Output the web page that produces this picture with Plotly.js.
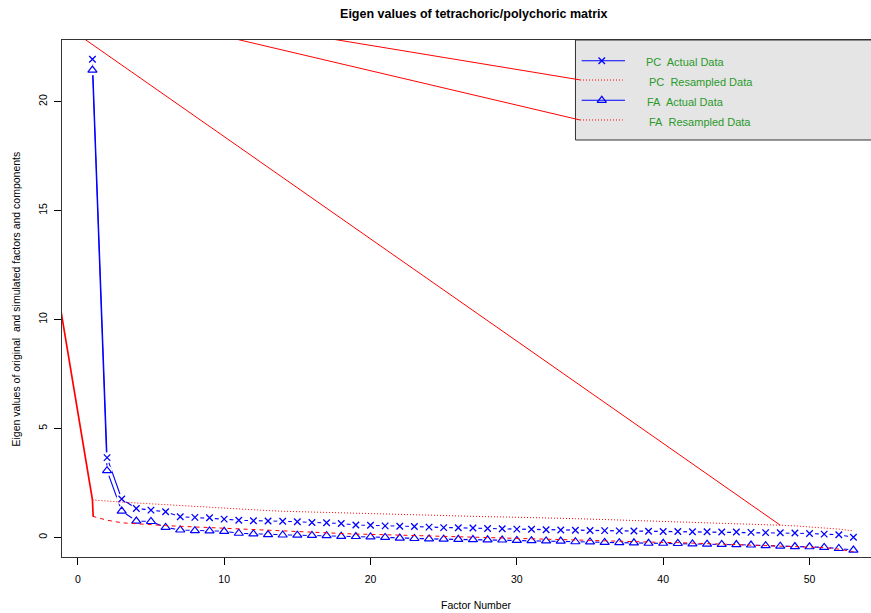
<!DOCTYPE html>
<html>
<head>
<meta charset="utf-8">
<script src="https://cdn.plot.ly/plotly-3.0.1.min.js"></script>
<style>html,body{margin:0;padding:0;background:#fff}#chart{width:871px;height:613px}</style>
</head>
<body>
<div id="chart"></div>
<script>
// ---------- data ----------
const factorNumber = [1,2,3,4,5,6,7,8,9,10,11,12,13,14,15,16,17,18,19,20,21,22,23,24,25,26,27,28,29,30,31,32,33,34,35,36,37,38,39,40,41,42,43,44,45,46,47,48,49,50,51,52,53];
const pcActual = [21.95,3.66,1.76,1.33,1.25,1.18,0.95,0.92,0.90,0.84,
  0.79,0.76,0.75,0.74,0.72,0.68,0.67,0.64,0.57,0.56,
  0.53,0.51,0.50,0.47,0.45,0.44,0.43,0.41,0.40,0.38,
  0.37,0.35,0.34,0.33,0.32,0.31,0.30,0.29,0.28,0.27,
  0.27,0.26,0.26,0.25,0.25,0.23,0.22,0.21,0.20,0.18,
  0.15,0.12,0.01];
const pcResampled = [1.72,1.66,1.62,1.58,1.54,1.50,1.45,1.40,1.36,1.32,
  1.29,1.26,1.23,1.20,1.18,1.16,1.14,1.12,1.10,1.08,
  1.06,1.04,1.03,1.02,1.00,0.98,0.96,0.95,0.94,0.93,
  0.92,0.90,0.88,0.86,0.84,0.82,0.80,0.78,0.77,0.75,
  0.73,0.71,0.69,0.66,0.63,0.61,0.58,0.56,0.53,0.49,
  0.45,0.38,0.30];
const faActual = [21.45,3.06,1.21,0.75,0.73,0.46,0.34,0.31,0.30,0.28,
  0.19,0.16,0.13,0.11,0.10,0.09,0.08,0.05,0.04,0.02,
  0.00,-0.03,-0.05,-0.07,-0.08,-0.09,-0.10,-0.11,-0.12,-0.14,
  -0.15,-0.16,-0.17,-0.20,-0.21,-0.23,-0.24,-0.25,-0.27,-0.27,
  -0.28,-0.30,-0.31,-0.32,-0.33,-0.35,-0.38,-0.40,-0.42,-0.43,
  -0.46,-0.51,-0.58];
const faResampled = [0.97,0.79,0.67,0.62,0.58,0.54,0.51,0.48,0.44,0.41,
  0.37,0.34,0.30,0.27,0.24,0.22,0.19,0.17,0.15,0.14,
  0.12,0.10,0.08,0.06,0.04,0.02,0.00,-0.01,-0.03,-0.04,
  -0.06,-0.08,-0.10,-0.12,-0.14,-0.16,-0.18,-0.20,-0.21,-0.23,
  -0.24,-0.26,-0.28,-0.30,-0.32,-0.34,-0.36,-0.38,-0.40,-0.43,
  -0.47,-0.54,-0.66];
// stray red line segments visible in the original picture (data coordinates)
const strayLeftX = [-1.3, 1, 1.05];
const strayLeftY = [11.0, 1.72, 0.97];
const strayDiagX = [-1.94, 48];
const strayDiagY = [24, 0.56];
const strayLegendPcX = [7.2, 34.31];
const strayLegendPcY = [24, 21.0];
const strayLegendFaX = [3.67, 34.31];
const strayLegendFaY = [24, 19.16];
// legend
const legendLabels = ["PC\u00a0 Actual Data", "PC\u00a0 Resampled Data", "FA\u00a0 Actual Data", "FA\u00a0 Resampled Data"];
const xTicks = [0, 10, 20, 30, 40, 50];
const yTicks = [0, 5, 10, 15, 20];

// ---------- styles ----------
const BLUE = '#0000ff', RED = '#ff0000', GREEN = '#2a9a2a';
const FONT = 'Liberation Sans, Arial, Helvetica, sans-serif';
const xMarker = {symbol: 'x-thin-open', size: 6.5, color: BLUE, line: {color: BLUE, width: 1.3}};
const triMarker = {symbol: 'triangle-up-open', size: 8, color: BLUE, line: {color: BLUE, width: 1.2}};

const traces = [];
// blue connecting lines
traces.push({x: factorNumber, y: pcActual, mode: 'lines', line: {color: BLUE, width: 1.1}, hoverinfo: 'skip'});
traces.push({x: factorNumber, y: faActual, mode: 'lines', line: {color: BLUE, width: 1.1}, hoverinfo: 'skip'});
// white gaps around points (type "b" look)
traces.push({x: factorNumber, y: pcActual, mode: 'markers', marker: {symbol: 'circle', size: 11, color: '#ffffff'}, hoverinfo: 'skip'});
traces.push({x: factorNumber, y: faActual, mode: 'markers', marker: {symbol: 'circle', size: 10.5, color: '#ffffff'}, hoverinfo: 'skip'});
// symbols
traces.push({x: factorNumber, y: pcActual, mode: 'markers', marker: xMarker});
traces.push({x: factorNumber, y: faActual, mode: 'markers', marker: triMarker});
// resampled
traces.push({x: factorNumber, y: pcResampled, mode: 'lines', line: {color: RED, width: 1, dash: '1px,2px'}});
traces.push({x: factorNumber, y: faResampled, mode: 'lines', line: {color: RED, width: 1, dash: '4px,4px'}});
// stray lines
traces.push({x: strayLeftX, y: strayLeftY, mode: 'lines', line: {color: RED, width: 1.7}});
traces.push({x: strayDiagX, y: strayDiagY, mode: 'lines', line: {color: RED, width: 1}});
traces.push({x: strayLegendPcX, y: strayLegendPcY, mode: 'lines', line: {color: RED, width: 1}});
traces.push({x: strayLegendFaX, y: strayLegendFaY, mode: 'lines', line: {color: RED, width: 1}});

// legend glyphs on an overlay [0,1] axis pair (paper-like)
const legRowY = [0.960, 0.9226, 0.8834, 0.8453];
const legBlueX = [0.6424, 0.6959];
const legRedX = [0.6403, 0.6931];
const legMarkX = 0.6672;
const legTextX = [0.7194, 0.7231, 0.7203, 0.7231];
const legTextY = [0.9569, 0.9182, 0.8795, 0.8420];
const ov = {xaxis: 'x2', yaxis: 'y2', hoverinfo: 'skip'};
traces.push(Object.assign({x: legBlueX, y: [legRowY[0], legRowY[0]], mode: 'lines', line: {color: BLUE, width: 1.1}}, ov));
traces.push(Object.assign({x: [legMarkX], y: [legRowY[0]], mode: 'markers', marker: xMarker}, ov));
traces.push(Object.assign({x: legRedX, y: [legRowY[1], legRowY[1]], mode: 'lines', line: {color: RED, width: 1, dash: '1px,2px'}}, ov));
traces.push(Object.assign({x: legBlueX, y: [legRowY[2], legRowY[2]], mode: 'lines', line: {color: BLUE, width: 1.1}}, ov));
traces.push(Object.assign({x: [legMarkX], y: [legRowY[2]], mode: 'markers', marker: triMarker}, ov));
traces.push(Object.assign({x: legRedX, y: [legRowY[3], legRowY[3]], mode: 'lines', line: {color: RED, width: 1, dash: '1px,2px'}}, ov));

const annotations = legendLabels.map((t, i) => ({
  text: t, xref: 'paper', yref: 'paper', x: legTextX[i], y: legTextY[i],
  xanchor: 'left', yanchor: 'middle', showarrow: false,
  font: {family: FONT, size: 11, color: GREEN}
}));
annotations.push({text: 'Factor Number', xref: 'paper', yref: 'paper', x: 0.512, y: -0.0928,
  xanchor: 'center', yanchor: 'middle', showarrow: false, font: {family: FONT, size: 10.5, color: '#000'}});
annotations.push({text: 'Eigen values of original\u00a0 and simulated factors and components', xref: 'paper', yref: 'paper',
  x: -0.0569, y: 0.5, xanchor: 'center', yanchor: 'middle', textangle: -90, showarrow: false,
  font: {family: FONT, size: 10.5, color: '#000'}});

const layout = {
  width: 871, height: 613,
  margin: {l: 62, r: 0, t: 40, b: 56},
  paper_bgcolor: '#ffffff', plot_bgcolor: '#ffffff',
  showlegend: false,
  font: {family: FONT, size: 10.5, color: '#000'},
  title: {text: '<b>Eigen values of tetrachoric/polychoric matrix</b>', xref: 'paper', x: 0.509, xanchor: 'center',
    yref: 'container', y: 0.977, yanchor: 'middle', font: {family: FONT, size: 12.5, color: '#000'}},
  xaxis: {range: [-1.08, 54.2], tickvals: xTicks, ticktext: xTicks.map(String), ticks: 'outside', ticklen: 7, tickwidth: 1,
    tickcolor: '#000', showline: true, linecolor: '#333', linewidth: 1, mirror: true, showgrid: false, zeroline: false,
    ticklabelstandoff: 5, tickfont: {family: FONT, size: 10.5, color: '#000'}, fixedrange: true},
  yaxis: {range: [-0.90, 22.83], tickvals: yTicks, ticktext: yTicks.map(String), ticks: 'outside', ticklen: 7, tickwidth: 1,
    tickcolor: '#000', showline: true, linecolor: '#333', linewidth: 1, mirror: true, showgrid: false, zeroline: false,
    tickangle: -90, ticklabelstandoff: 3, tickfont: {family: FONT, size: 10.5, color: '#000'}, fixedrange: true},
  xaxis2: {overlaying: 'x', range: [0, 1], visible: false, fixedrange: true},
  yaxis2: {overlaying: 'y', range: [0, 1], visible: false, fixedrange: true},
  shapes: [{type: 'rect', xref: 'paper', yref: 'paper', x0: 0.6347, x1: 1.05, y0: 0.8066, y1: 1.0,
    fillcolor: '#e5e5e5', line: {color: '#333', width: 1}, layer: 'below'}],
  annotations: annotations
};

Plotly.newPlot('chart', traces, layout, {displayModeBar: false, staticPlot: true});
</script>
</body>
</html>
